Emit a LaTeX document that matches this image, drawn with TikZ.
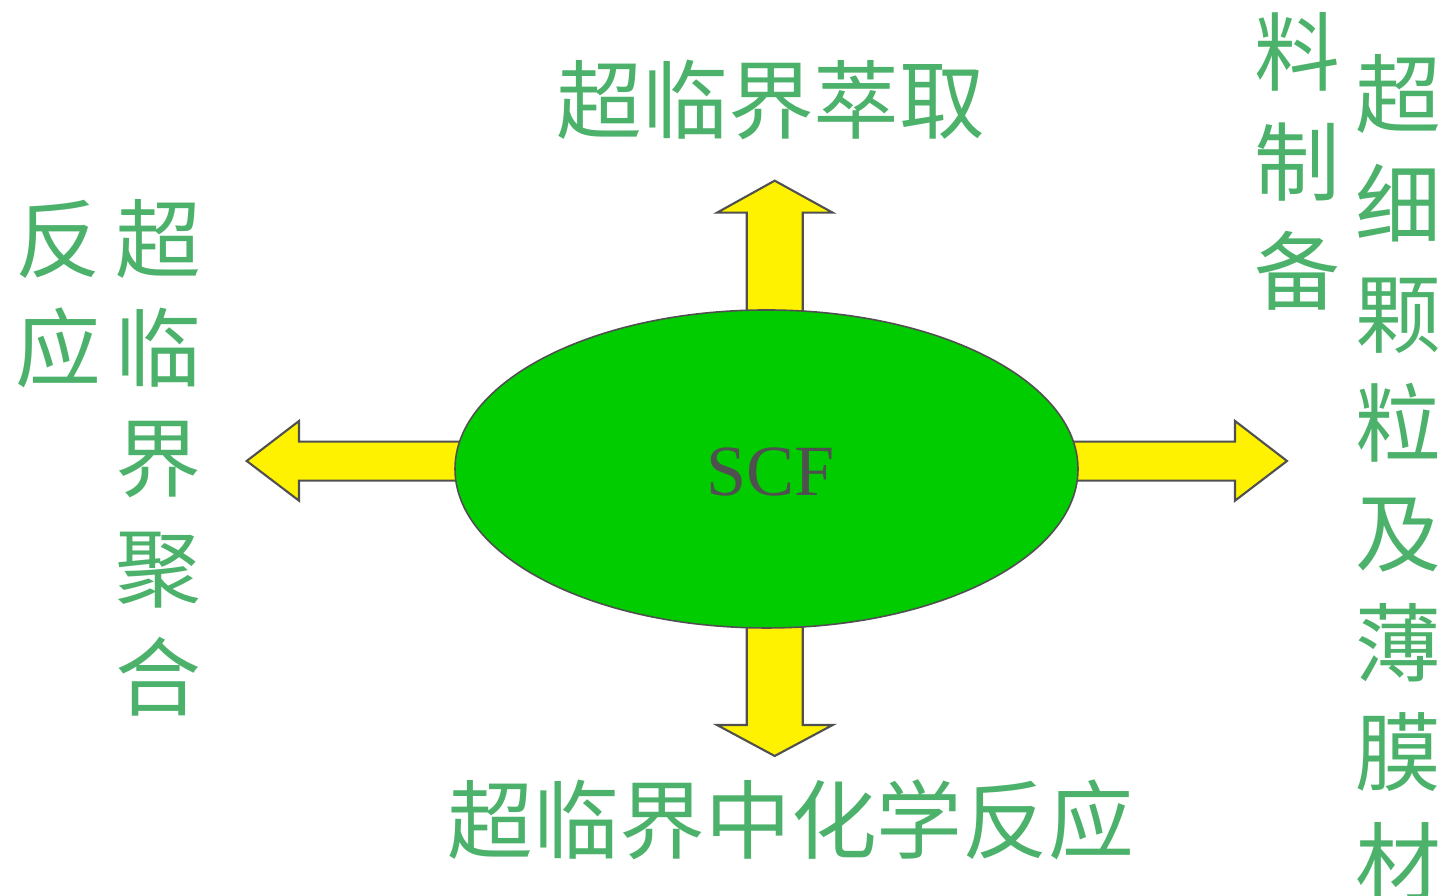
\documentclass[tikz,border=0pt]{standalone}
\usepackage{fontspec}
\newfontfamily\cjk{Noto Sans CJK SC}
\newfontfamily\romanfont{Liberation Serif}
\usetikzlibrary{shapes.geometric}
\definecolor{scfgreen}{RGB}{0,204,0}
\definecolor{txtgreen}{RGB}{76,178,107}
\definecolor{edgegray}{RGB}{80,80,80}
\tikzset{
  core/.style={ellipse, draw=edgegray, fill=scfgreen, line width=0.45pt, minimum width=6.23cm, minimum height=3.18cm, inner sep=0pt},
  blockarrow/.style={draw=edgegray, fill=yellow, line width=0.6pt, line join=miter},
  caption/.style={text=txtgreen, font=\cjk\fontsize{24.4}{31.2}\selectfont, inner sep=0pt},
  column/.style={caption, align=center}
}
\begin{document}
\begin{tikzpicture}
  \useasboundingbox (0,0) rectangle (14.43,8.96);

  % block arrows, drawn first so that the ellipse covers their feet
  \draw[blockarrow] (7.467,5.6) -- (7.467,6.833) -- (7.17,6.833) -- (7.747,7.153)
    -- (8.327,6.833) -- (8.027,6.833) -- (8.027,5.6) -- cycle;
  \draw[blockarrow] (7.467,2.9) -- (7.467,1.71) -- (7.17,1.71) -- (7.747,1.40)
    -- (8.327,1.71) -- (8.027,1.71) -- (8.027,2.9) -- cycle;
  \draw[blockarrow] (4.8,4.543) -- (2.99,4.543) -- (2.99,4.75) -- (2.467,4.35)
    -- (2.99,3.953) -- (2.99,4.153) -- (4.8,4.153) -- cycle;
  \draw[blockarrow] (10.5,4.543) -- (12.35,4.543) -- (12.35,4.75) -- (12.87,4.35)
    -- (12.35,3.953) -- (12.35,4.153) -- (10.5,4.153) -- cycle;

  \node[core] (scf) at (7.665,4.27) {};
  \node[text=edgegray, font=\romanfont\fontsize{20.5}{24}\selectfont, inner sep=0pt] (scflabel) at (7.705,4.24) {SCF};

  \node[caption] (extract) at (7.71,7.96) {超临界萃取};
  \node[caption] (react) at (7.91,0.76) {超临界中化学反应};
  \node[column] (poly) at (1.58,4.38) {超\\临\\界\\聚\\合};
  \node[column] (polytail) at (0.58,6.02) {反\\应};
  \node[column] (film) at (13.98,4.18) {超\\细\\颗\\粒\\及\\薄\\膜\\材};
  \node[column] (filmtail) at (12.97,7.345) {料\\制\\备};
\end{tikzpicture}
\end{document}
